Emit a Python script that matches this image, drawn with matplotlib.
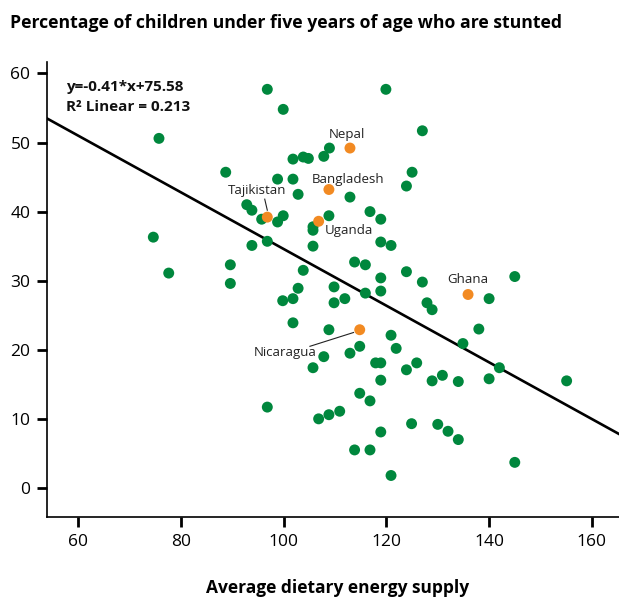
import numpy as np
import matplotlib
matplotlib.use("Agg")
import matplotlib.pyplot as plt

plt.rcParams['font.family'] = ['Open Sans', 'DejaVu Sans']

# green countries: (energy supply, % stunted)
energy = [74.6, 75.7, 77.6, 88.7, 89.6, 89.6, 96.8, 99.9, 92.8, 93.8,
          95.7, 99.9, 98.8, 93.8, 96.8, 98.8, 101.8, 103.8, 104.8, 107.8,
          108.9, 101.8, 102.8, 108.8, 105.7, 105.7, 105.7, 119.9, 127.0, 125.0,
          123.9, 112.9, 116.8, 118.9, 118.9, 120.9, 103.8, 109.8, 102.8, 99.8,
          101.8, 109.8, 101.8, 108.8, 107.8, 105.7, 96.8, 106.8, 108.8, 110.9,
          113.8, 115.9, 118.9, 123.9, 127.0, 140.0, 145.0, 111.9, 115.9, 118.9,
          127.9, 128.9, 120.9, 121.9, 114.8, 112.9, 117.9, 118.9, 123.9, 125.9,
          118.9, 128.9, 130.9, 134.0, 138.0, 134.9, 142.0, 140.0, 155.1, 114.8,
          116.8, 124.9, 130.0, 132.0, 134.0, 118.9, 113.8, 116.8, 145.0, 120.9]
stunted = [36.3, 50.6, 31.1, 45.7, 32.3, 29.6, 57.7, 54.8, 41.0, 40.2,
           38.9, 39.4, 38.5, 35.1, 35.7, 44.7, 44.7, 47.9, 47.7, 48.0,
           49.2, 47.6, 42.5, 39.4, 37.8, 37.3, 35.0, 57.7, 51.7, 45.7,
           43.7, 42.1, 40.0, 38.9, 35.6, 35.1, 31.5, 29.1, 28.9, 27.1,
           27.4, 26.8, 23.9, 22.9, 19.0, 17.4, 11.7, 10.0, 10.6, 11.1,
           32.7, 32.3, 30.4, 31.3, 29.8, 27.4, 30.6, 27.4, 28.2, 28.5,
           26.8, 25.8, 22.1, 20.2, 20.5, 19.5, 18.1, 18.1, 17.1, 18.1,
           15.6, 15.5, 16.3, 15.4, 23.0, 20.9, 17.4, 15.8, 15.5, 13.7,
           12.6, 9.3, 9.2, 8.2, 7.0, 8.1, 5.5, 5.5, 3.7, 1.8]

# highlighted countries
hl_names = ['Nepal', 'Bangladesh', 'Tajikistan', 'Uganda', 'Ghana', 'Nicaragua']
hl_energy = [112.9, 108.8, 96.8, 106.8, 135.9, 114.8]
hl_stunted = [49.2, 43.2, 39.2, 38.6, 28.0, 22.9]

slope, intercept = -0.41, 75.58

fig = plt.figure(figsize=(6.19, 5.99), dpi=100)
ax = fig.add_axes([0.076, 0.137, 0.924, 0.76])

ax.scatter(energy, stunted, s=62, color='#00873d', edgecolors='none', zorder=3)
ax.scatter(hl_energy, hl_stunted, s=62, color='#f28a22', edgecolors='none', zorder=4)

xl = np.array([53.9, 165.3])
ax.plot(xl, slope * xl + intercept, color='black', lw=1.9, zorder=2)

# labels
lab_col = '#222222'
ax.text(112.4, 51.1, 'Nepal', ha='center', va='center', fontsize=9.5, color=lab_col)
ax.text(112.6, 44.6, 'Bangladesh', ha='center', va='center', fontsize=9.5, color=lab_col)
ax.text(112.7, 37.3, 'Uganda', ha='center', va='center', fontsize=9.5, color=lab_col)
ax.text(94.8, 43.0, 'Tajikistan', ha='center', va='center', fontsize=9.5, color=lab_col)
ax.plot([96.3, 96.8], [41.8, 40.2], color=lab_col, lw=0.8)
ax.text(135.9, 30.1, 'Ghana', ha='center', va='center', fontsize=9.5, color=lab_col)
ax.text(100.2, 19.6, 'Nicaragua', ha='center', va='center', fontsize=9.5, color=lab_col)
ax.plot([105.1, 113.6], [20.5, 22.5], color=lab_col, lw=0.8)

ax.text(57.6, 58.0, 'y=-0.41*x+75.58', ha='left', va='center', fontsize=11,
        fontweight='bold', color='#111111')
ax.text(57.6, 55.1, 'R² Linear = 0.213', ha='left', va='center', fontsize=11,
        fontweight='bold', color='#111111')

ax.set_xlim(53.9, 165.3)
ax.set_ylim(-4.2, 61.7)
ax.set_xticks([60, 80, 100, 120, 140, 160])
ax.set_yticks([0, 10, 20, 30, 40, 50, 60])

for side in ['top', 'right']:
    ax.spines[side].set_visible(False)
for side in ['left', 'bottom']:
    ax.spines[side].set_linewidth(1.2)
ax.tick_params(axis='both', direction='out', length=7, width=2, labelsize=12.5,
               colors='black', pad=5)

fig.text(0.545, 0.018, 'Average dietary energy supply', fontsize=12.5, fontweight='bold',
         ha='center', va='center')
fig.text(0.016, 0.962, 'Percentage of children under five years of age who are stunted',
         fontsize=12.7, fontweight='bold', ha='left', va='center')

fig.savefig('out.png', dpi=100)
